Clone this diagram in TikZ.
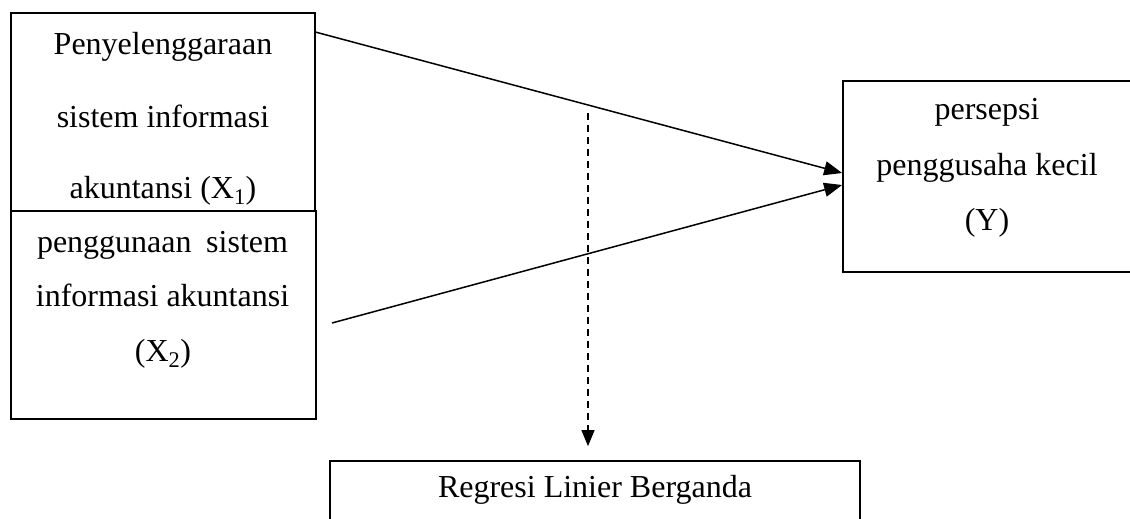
\documentclass[tikz,border=0pt]{standalone}
\usepackage{fontspec}
\setmainfont{Liberation Serif}
\usetikzlibrary{arrows.meta,calc}
\begin{document}
\begin{tikzpicture}[x=1pt,y=-1pt,
  box/.style={draw, line width=1.7pt, inner sep=0pt},
  lbl/.style={anchor=base, inner sep=0pt, font=\fontsize{32}{38}\selectfont},
  conn/.style={line width=1.5pt, -{Triangle[length=18pt,width=14pt]}},
  dashconn/.style={line width=1.3pt, dash pattern=on 7pt off 5pt, -{Triangle[length=16pt,width=13pt]}}]
\useasboundingbox (0,0) rectangle (1130,519);
\clip (0,0) rectangle (1130,519);
% boxes
\node[box, minimum width=304pt, minimum height=198pt] (x1) at (163,112) {};
\node[box, minimum width=305pt, minimum height=208pt] (x2) at (163.5,315) {};
\node[box, minimum width=290pt, minimum height=191pt] (ybox) at (988,176.5) {};
\node[box, minimum width=530pt, minimum height=99pt] (reg) at (595,510.5) {};
% texts
\node[lbl] (t11) at (163,55) {Penyelenggaraan};
\node[lbl] (t12) at (163,127) {sistem informasi};
\node[lbl] (t13) at (163,198) {akuntansi (X\textsubscript{1})};
\node[lbl] (t21) at (162.5,252) {\makebox[251pt]{penggunaan\hfill sistem}};
\node[lbl] (t22) at (162.5,306) {informasi akuntansi};
\node[lbl] (t23) at (163,361) {(X\textsubscript{2})};
\node[lbl] (t31) at (987,119) {persepsi};
\node[lbl] (t32) at (987,175) {penggusaha kecil};
\node[lbl] (t33) at (987,230) {(Y)};
\node[lbl] (t41) at (595,497) {Regresi Linier Berganda};
% connectors
\coordinate (s1) at ($(x1.north east)+(0,20)$);
\coordinate (s2) at (332,323);
\coordinate (d1) at (588,113);
\coordinate (d2) at ($(reg.north)+(-7,-14)$);
\draw[conn] (s1) -- ($(ybox.west)+(0,-3.5)$);
\draw[conn] (s2) -- ($(ybox.west)+(0,8.5)$);
\draw[dashconn] (d1) -- (d2);
\end{tikzpicture}
\end{document}
